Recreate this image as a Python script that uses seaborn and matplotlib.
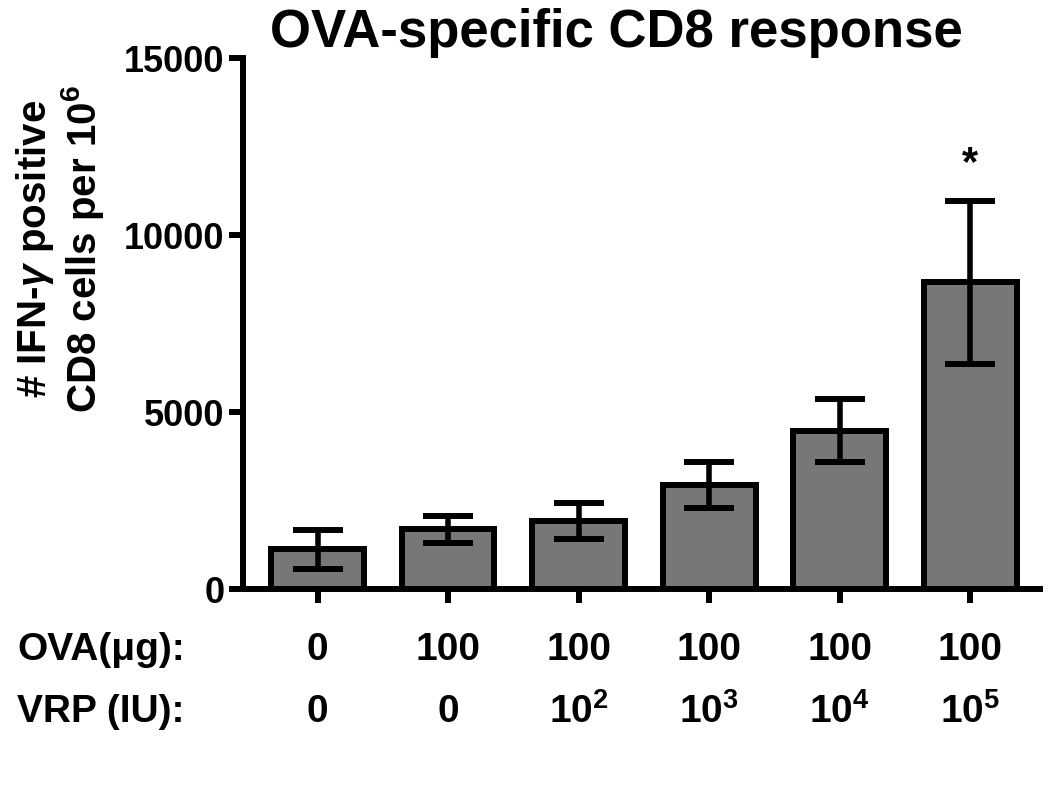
import matplotlib
matplotlib.use("Agg")
import matplotlib.pyplot as plt
import matplotlib.transforms as mtransforms
import seaborn as sns
import pandas as pd

# values (mean +/- error)
groups = ["g1", "g2", "g3", "g4", "g5", "g6"]
means = [1120, 1690, 1920, 2940, 4475, 8665]
errors = [550, 385, 500, 640, 895, 2300]
ova_labels = ["0", "100", "100", "100", "100", "100"]
vrp_labels = ["0", "0", r"$\mathbf{10^{2}}$", r"$\mathbf{10^{3}}$",
              r"$\mathbf{10^{4}}$", r"$\mathbf{10^{5}}$"]
yticks = [0, 5000, 10000, 15000]

sns.set_style("ticks")
plt.rcParams["font.family"] = ["Liberation Sans", "DejaVu Sans"]
plt.rcParams["font.weight"] = "bold"
plt.rcParams["mathtext.fontset"] = "custom"
plt.rcParams["mathtext.rm"] = "Liberation Sans:bold"
plt.rcParams["mathtext.bf"] = "Liberation Sans:bold"
plt.rcParams["mathtext.it"] = "Liberation Sans:italic"
for k in ["text.color", "axes.labelcolor", "xtick.color", "ytick.color",
          "axes.edgecolor"]:
    plt.rcParams[k] = "black"

df = pd.DataFrame({"group": groups, "value": means})

fig = plt.figure(figsize=(10.5, 7.95), dpi=100)
ax = fig.add_axes([0.231, 0.259, 0.759, 0.668])

sns.barplot(data=df, x="group", y="value", ax=ax, color="#777777",
            saturation=1, width=0.71, edgecolor="black", linewidth=4.3,
            errorbar=None)
ax.errorbar(range(len(means)), means, yerr=errors, fmt="none",
            ecolor="black", elinewidth=4, capsize=18, capthick=4.3, zorder=5)

ax.set_ylim(0, 15000)
ax.set_xlim(-0.575, 5.53)
ax.set_yticks(yticks)
ax.set_yticklabels([str(t) for t in yticks], fontsize=26, fontweight="bold")
ax.set_xticks(range(len(means)))
ax.set_xticklabels([])
ax.set_xlabel("")
ax.tick_params(axis="both", width=4.3, length=10, direction="out")
ax.tick_params(axis="y", pad=3)
for s in ["left", "bottom"]:
    ax.spines[s].set_linewidth(4.3)
sns.despine(ax=ax)

ax.set_title("OVA-specific CD8 response", fontsize=38, fontweight="bold",
             pad=4, x=0.469)
ax.set_ylabel("# IFN-$\\gamma$ positive\nCD8 cells per $\\mathbf{10^{6}}$",
              fontsize=29, fontweight="bold", linespacing=1.1)
ax.yaxis.set_label_coords(-0.171, 0.64)

# asterisk above the last bar
ax.text(5, means[5] + errors[5] + 720, "*", ha="center", va="baseline",
        fontsize=30, fontweight="bold")

# two rows of group labels below the axis
trans = mtransforms.blended_transform_factory(ax.transData, ax.transAxes)
row_font = dict(fontsize=28, fontweight="bold")
ax.text(-0.283, -0.115, "OVA(\u03bcg):", transform=ax.transAxes,
        ha="left", va="center", **row_font)
ax.text(-0.283, -0.232, "VRP (IU):", transform=ax.transAxes,
        ha="left", va="center", **row_font)
for i, (o, v) in enumerate(zip(ova_labels, vrp_labels)):
    ax.text(i, -0.115, o, transform=trans, ha="center", va="center", **row_font)
    ax.text(i, -0.232, v, transform=trans, ha="center", va="center", **row_font)

fig.savefig("out.png", dpi=100)
